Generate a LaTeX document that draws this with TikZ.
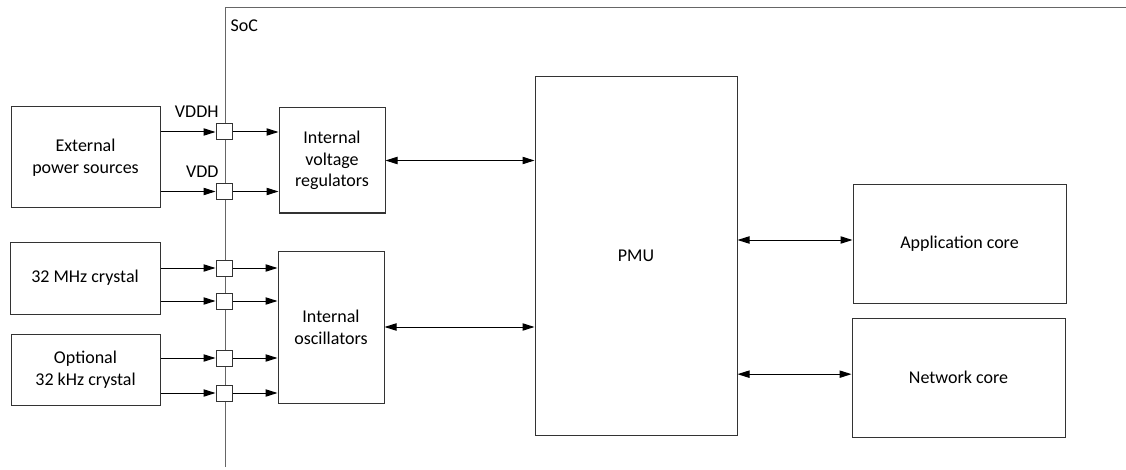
\documentclass[tikz,border=0pt]{standalone}
\usepackage{fontspec}
\setmainfont{Carlito}
\usetikzlibrary{arrows.meta}

\begin{document}
\begin{tikzpicture}[x=0.75pt, y=-0.75pt,
        blk/.style={draw=black!80, line width=0.75pt, align=center, inner sep=2pt,
            font=\fontsize{13.5}{16.3}\selectfont},
        pad/.style={draw=black!80, fill=white, minimum size=12pt, inner sep=0pt, line width=0.75pt},
        sig/.style={-{Triangle[length=9pt, width=5.5pt]}, line width=0.75pt},
        bus/.style={{Triangle[length=9pt, width=5.5pt]}-{Triangle[length=9pt, width=5.5pt]}, line width=0.75pt},
        lbl/.style={font=\fontsize{13.5}{16}\selectfont, inner sep=1pt}]
            \useasboundingbox (0,0) rectangle (1126,470);
            \draw[black!60, line width=0.75pt] (225,467) -- (225,8) -- (1126,8);
            \node[lbl, anchor=north west] (soc) at (229,18) {SoC};

            \node[blk, minimum width=111.75pt, minimum height=75.75pt] (ext) at (85.5,157.5) {External\\power sources};
            \node[blk, minimum width=112.5pt, minimum height=54pt] (mhz) at (85,278) {32 MHz crystal};
            \node[blk, minimum width=111.75pt, minimum height=53.25pt] (khz) at (85.5,369.5) {Optional\\32 kHz crystal};
            \node[blk, minimum width=79.5pt, minimum height=78.75pt] (ivr) at (332,160.5) {Internal\\voltage\\regulators};
            \node[blk, minimum width=79.5pt, minimum height=114pt] (osc) at (331,327) {Internal\\oscillators};
            \node[blk, minimum width=151.5pt, minimum height=268.5pt] (pmu) at (636,256) {PMU};
            \node[blk, minimum width=159.75pt, minimum height=88.5pt] (app) at (959.5,244) {Application core};
            \node[blk, minimum width=159.75pt, minimum height=89.25pt] (net) at (958.5,377.5) {Network core};

            \node[pad] (p1) at (224,132) {};
            \node[pad] (p2) at (224,191.5) {};
            \node[pad] (p3) at (224,268) {};
            \node[pad] (p4) at (224,301) {};
            \node[pad] (p5) at (224,358) {};
            \node[pad] (p6) at (224,393) {};

            \draw[sig] (p1.west -| ext.east) -- (p1.west);
            \draw[sig] (p2.west -| ext.east) -- (p2.west);
            \draw[sig] (p3.west -| mhz.east) -- (p3.west);
            \draw[sig] (p4.west -| mhz.east) -- (p4.west);
            \draw[sig] (p5.west -| khz.east) -- (p5.west);
            \draw[sig] (p6.west -| khz.east) -- (p6.west);
            \draw[sig] (p1.east) -- (p1.east -| ivr.west);
            \draw[sig] (p2.east) -- (p2.east -| ivr.west);
            \draw[sig] (p3.east) -- (p3.east -| osc.west);
            \draw[sig] (p4.east) -- (p4.east -| osc.west);
            \draw[sig] (p5.east) -- (p5.east -| osc.west);
            \draw[sig] (p6.east) -- (p6.east -| osc.west);

            \node[lbl, anchor=south east] (vddh) at ([xshift=3.5pt, yshift=3pt]p1.north west) {VDDH};
            \node[lbl, anchor=south east] (vdd) at ([xshift=3.5pt, yshift=3pt]p2.north west) {VDD};

            \draw[bus] (ivr.east) -- (ivr.east -| pmu.west);
            \draw[bus] (osc.east) -- (osc.east -| pmu.west);
            \draw[bus] ([yshift=3pt]app.west -| pmu.east) -- ([yshift=3pt]app.west);
            \draw[bus] ([yshift=2.5pt]net.west -| pmu.east) -- ([yshift=2.5pt]net.west);
        \end{tikzpicture}
\end{document}
